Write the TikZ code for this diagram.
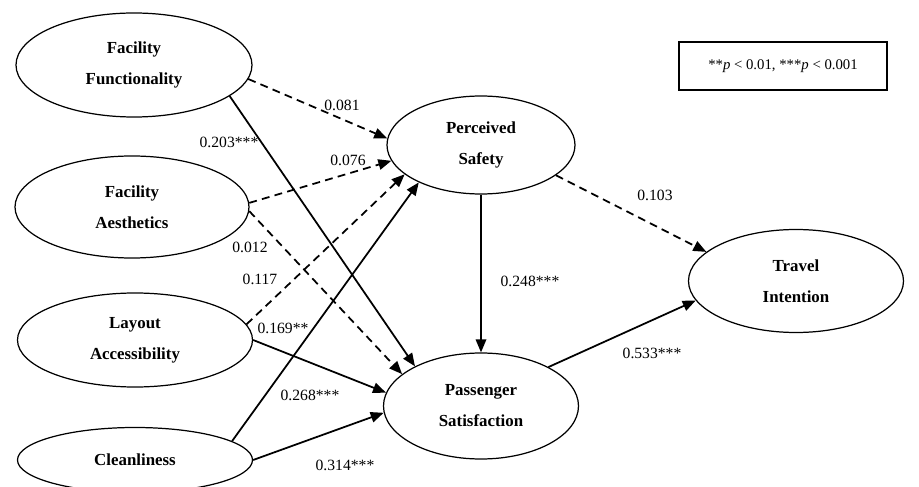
\documentclass[tikz,border=0pt]{standalone}
\usepackage{fontspec}
\setmainfont{Liberation Serif}
\usetikzlibrary{shapes.geometric,arrows.meta}
\tikzset{
  latent/.style={draw,ellipse,line width=0.7pt,inner sep=0pt,align=center,
    font=\bfseries\fontsize{9.6}{17.6}\selectfont},
  coef/.style={font=\fontsize{8.9}{10}\selectfont},
  path/.style={line width=1pt,-{Triangle[length=2.6mm,width=2.1mm]}},
  nspath/.style={path,dash pattern=on 4.5pt off 3pt}
}
\begin{document}
\begin{tikzpicture}
\useasboundingbox (0,0) rectangle (18.38cm,9.72cm);
% latent constructs
\node (ff) at (2.68cm,8.42cm) [latent,minimum width=4.72cm,minimum height=2.08cm] {Facility\\Functionality};
\node (fa) at (2.64cm,5.58cm) [latent,minimum width=4.68cm,minimum height=2.04cm] {Facility\\Aesthetics};
\node (la) at (2.70cm,2.92cm) [latent,minimum width=4.70cm,minimum height=1.88cm] {Layout\\Accessibility};
\node (cl) at (2.70cm,0.52cm) [latent,minimum width=4.70cm,minimum height=1.30cm] {Cleanliness};
\node (ps) at (9.62cm,6.82cm) [latent,minimum width=3.76cm,minimum height=1.96cm] {Perceived\\Safety};
\node (sat) at (9.62cm,1.60cm) [latent,minimum width=3.90cm,minimum height=2.12cm] {Passenger\\Satisfaction};
\node (ti) at (15.92cm,4.10cm) [latent,minimum width=4.30cm,minimum height=2.06cm] {Travel\\Intention};
\node (legend) at (15.66cm,8.40cm) [draw,line width=0.7pt,minimum width=4.16cm,minimum height=0.96cm,font=\fontsize{8.4}{10}\selectfont] {**\textit{p} < 0.01, ***\textit{p} < 0.001};
% paths
\draw[nspath] (ff.-7) -- (ps.176);
\draw[path] (ff.-18) -- (sat.149);
\draw[nspath] (fa.2) -- (ps.-170);
\draw[nspath] (fa.-2) -- (sat.158);
\draw[nspath] (la.8) -- (ps.-159);
\draw[path] (la.0) -- (sat.172);
\draw[path] (cl.11) -- (ps.-149);
\draw[path] (cl.0) -- (sat.-176);
\draw[path] (ps.south) -- (sat.north);
\draw[nspath] (ps.-22) -- (ti.162);
\draw[path] (sat.30) -- (ti.-169);
% coefficients
\node (c1) at (6.84cm,7.62cm) [coef] {0.081};
\node (c2) at (4.58cm,6.88cm) [coef] {0.203***};
\node (c3) at (6.96cm,6.52cm) [coef] {0.076};
\node (c4) at (5.00cm,4.78cm) [coef] {0.012};
\node (c5) at (5.20cm,4.14cm) [coef] {0.117};
\node (c6) at (5.66cm,3.16cm) [coef] {0.169**};
\node (c7) at (6.20cm,1.82cm) [coef] {0.268***};
\node (c8) at (6.90cm,0.42cm) [coef] {0.314***};
\node (c9) at (10.60cm,4.10cm) [coef] {0.248***};
\node (c10) at (13.10cm,5.82cm) [coef] {0.103};
\node (c11) at (13.04cm,2.66cm) [coef] {0.533***};
\end{tikzpicture}
\end{document}
